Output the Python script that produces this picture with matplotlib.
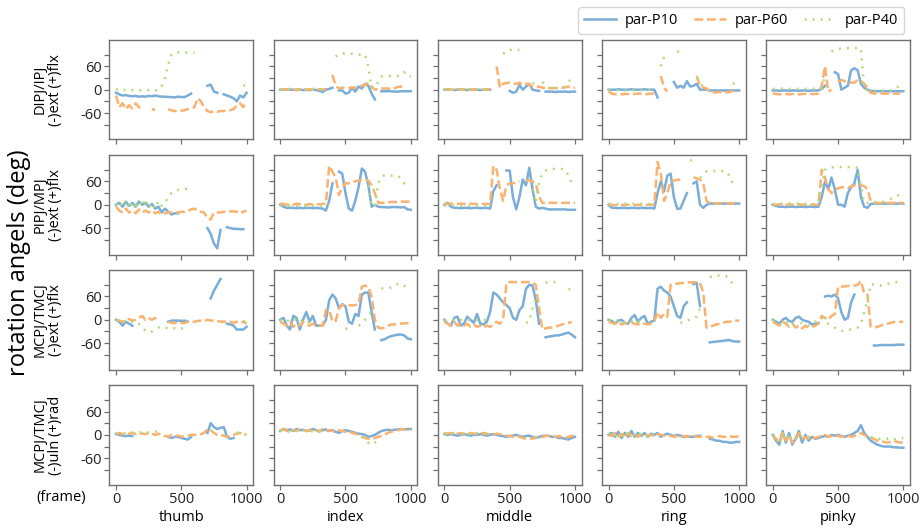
import matplotlib
matplotlib.use("Agg")
import matplotlib.pyplot as plt
import numpy as np

n = np.nan

frames = np.arange(0, 1001, 25)

fingers = ['thumb', 'index', 'middle', 'ring', 'pinky']
row_labels = ['DIPJ/IPJ\n(-)ext (+)flx', 'PIPJ/MPJ\n(-)ext (+)flx',
              'MCPJ/TMCJ\n(-)ext (+)flx', 'MCPJ/TMCJ\n(-)uln (+)rad']
series_names = ['par-P10', 'par-P60', 'par-P40']

# ---- row 1: DIPJ/IPJ flexion ----
dip_thumb_p10 = [-8, -12, -15, -14, -16, -17, -16, -18, -17, -18,
                 -16, -17, -15, -17, -18, -18, -19, -19, -20, -18,
                 -19, -19, -15, -10, n, n, n, n, 10, 13,
                 -5, -8, n, -12, -15, -18, -22, -30, -15, -20, -8]
dip_thumb_p60 = [-15, -45, -35, -50, -40, -48, -35, -45, -50, n,
                 n, -50, -52, n, n, n, -50, -53, -55, -55,
                 -54, -53, -50, -48, -45, -22, -30, -45, -55, -58,
                 -56, -57, -55, -55, -54, -53, -50, -40, -35, -45, -30]
dip_thumb_p40 = [0, 2, -2, 0, -2, -1, 0, -2, -1, 0,
                 -1, 0, -2, -1, 10, 30, 65, 90, 96, 96,
                 96, 96, 95, 95, 95, n, n, n, n, n,
                 n, n, n, n, n, n, n, n, n, 10, 13]

dip_index_p10 = [0, 0, 1, 0, 0, -1, 0, -1, -1, -1,
                 0, -1, -3, -6, 0, 2, 5, n, -2, -2,
                 -10, -8, 5, -5, 8, 3, 15, 10, -10, -25,
                 n, -4, -4, -4, -4, -5, -5, -4, -4, -4, -4]
dip_index_p60 = [0, 1, 0, 1, 0, 0, 1, 0, 0, 1,
                 0, 0, 1, 0, 2, n, 38, 10, 3, 5,
                 5, 4, 6, 5, 8, 10, 12, 18, 8, 0,
                 2, 3, 3, 3, 2, 4, 7, 8, 4, n, n]
dip_index_p40 = [1, 1, 1, 2, 1, 1, 2, 1, 1, 1,
                 2, 1, 1, 1, n, n, n, 85, 92, 93,
                 93, 92, 92, 92, 90, 90, 90, 60, 5, 5,
                 20, 34, 34, 35, 35, 35, 35, 38, 45, 34, 34]

dip_middle_p10 = [0, 0, 0, -1, 0, 0, 0, -1, 0, 0,
                  0, -1, 0, 0, 0, n, n, n, n, n,
                  -3, -8, -5, 12, 0, 8, 15, 0, -2, -3,
                  n, -5, -5, -5, -6, -5, -5, -5, -6, -5, -5]
dip_middle_p60 = [0, 1, 0, 0, 1, 0, 0, 1, 0, 0,
                  1, 0, 0, 1, 0, n, 60, 5, 15, 17,
                  18, 16, 15, 18, 12, 15, 14, 8, 6, 8,
                  5, 5, 4, 4, 4, 5, 5, 6, 8, 5, 5]
dip_middle_p40 = [0, 1, 0, 0, 1, 0, 0, 1, 0, 0,
                  1, 0, 0, 1, 0, n, n, n, 92, 100,
                  102, 103, 103, 102, n, n, n, 15, 22, n,
                  20, 10, 4, 4, 4, 4, 5, 8, 20, 28, 25]

dip_ring_p10 = [0, 0, 0, 1, 0, 0, 0, 1, 0, 0,
                0, 1, 0, 0, 0, -20, n, n, n, n,
                20, 5, 10, 5, 22, 8, 10, 15, 0, 0,
                0, -2, -2, -2, -2, -2, -2, -2, -2, -2, -2]
dip_ring_p60 = [-5, -10, -12, -12, -12, -11, -11, -12, -11, -10,
                -11, -12, -11, -10, -10, n, 35, 5, -5, n,
                n, n, n, n, n, n, n, 35, 10, 5,
                3, -5, -7, -7, -6, -6, -7, -6, -3, -2, n]
dip_ring_p40 = [-1, -1, -2, -1, -1, -2, -1, -1, -2, -1,
                -1, -2, -1, -1, -1, n, 60, 85, 90, n,
                n, 98, 98, 98, n, n, n, 30, 20, 5,
                3, n, n, n, n, n, n, n, 15, 18, n]

dip_pinky_p10 = [-2, -2, -3, -2, -2, -3, -2, -2, -3, -2,
                 -2, -3, -2, -2, -2, 2, 10, n, n, 45,
                 40, 0, 5, 10, 50, 55, 50, 15, 5, 0,
                 -3, -4, -4, -4, -4, -4, -4, -4, -4, -4, -4]
dip_pinky_p60 = [-10, -11, -12, -11, -11, -12, -11, -11, -12, -11,
                 -11, -12, -11, -11, -10, 10, 60, -5, 0, n,
                 20, 25, 22, 20, 18, 18, 25, 22, 15, 5,
                 -8, -10, -10, -10, -10, -10, -10, -10, -10, -10, n]
dip_pinky_p40 = [2, 2, 2, 3, 2, 2, 3, 2, 2, 3,
                 2, 2, 3, 2, 2, 5, 35, n, 98, 103,
                 104, 106, 107, 107, 107, 107, 107, 106, 3, 0,
                 -2, -2, -2, -2, -2, -2, -2, 0, 5, 12, 18]

# ---- row 2: PIPJ/MPJ flexion ----
pip_thumb_p10 = [0, 5, -5, 8, -3, 5, -5, 8, 0, 5,
                 -5, 2, -10, -5, -20, -10, -18, -25, -22, -22,
                 n, -35, n, -55, n, n, n, n, -60, -75,
                 -100, -112, -65, n, -58, -60, -62, -62, -63, -63, n]
pip_thumb_p60 = [-5, -15, -20, -10, -20, -15, -22, -12, -20, -15,
                 -20, -15, -22, -18, -25, -22, -20, -20, -20, -20,
                 -18, -18, -16, -12, -10, -15, -18, -20, -35, -38,
                 -20, -20, -20, -18, -18, -17, -17, -18, -22, -18, -15]
pip_thumb_p40 = [0, 10, -5, 12, -10, 8, -12, 10, -5, 15,
                 -8, 5, -10, 10, -3, 5, 20, 30, 35, 38,
                 40, 40, 42, 42, n, n, n, n, n, n,
                 n, n, n, n, n, n, n, n, n, n, n]

pip_index_p10 = [0, -5, -8, -8, -8, -9, -8, -9, -8, -8,
                 -9, -8, -9, -10, -15, 10, 55, n, 85, 80,
                 30, -10, -15, 10, 45, 93, 85, 50, -5, 0,
                 -5, -6, -6, -7, -6, -6, -6, -7, -6, -12, -13]
pip_index_p60 = [3, 2, 0, 2, 0, 3, 1, 2, 0, 2,
                 0, 2, 1, 2, 3, 100, 85, 70, 25, 45,
                 55, 55, 58, 60, 62, 65, 65, 62, 50, 30,
                 5, 5, 5, 6, 7, 7, 7, 8, 8, 8, 8]
pip_index_p40 = [-2, -2, -3, -2, -2, -3, -2, -2, -3, -2,
                 -2, -3, -2, -2, -2, 0, n, n, n, n,
                 n, n, n, n, n, n, n, 50, 0, -5,
                 55, 72, 76, 76, 75, 75, 74, 68, 55, 50, 50]

pip_middle_p10 = [0, 5, -5, -8, -8, -9, -8, -8, -9, -8,
                  -8, -9, -8, -8, -10, 35, 50, n, n, 88,
                  88, 20, -12, 20, 65, 50, 95, 40, -5, -10,
                  -8, -10, -12, -12, -12, -12, -12, -12, -13, -13, -13]
pip_middle_p60 = [2, 2, 3, 2, 2, 3, 2, 2, 3, 2,
                  2, 3, 2, 2, 2, 100, 90, 40, 10, 50,
                  55, 55, 58, 60, n, 62, 63, 60, 55, 20,
                  5, 5, 5, 5, 5, 5, 5, 5, 5, 5, 5]
pip_middle_p40 = [-2, -2, -3, -2, -2, -3, -2, -2, -3, -2,
                  -2, -3, -2, -2, -2, n, n, n, n, n,
                  n, n, n, n, n, n, n, 40, 5, 60,
                  80, 88, 90, 92, 92, 92, 92, 90, 75, 55, n]

pip_ring_p10 = [0, -8, -8, -9, -8, -8, -9, -8, -8, -9,
                -8, -8, -9, -8, -10, 30, 60, 35, 75, 80,
                20, -10, -10, 10, 30, n, 55, 60, 0, -8,
                0, 3, 3, 3, 3, 3, 3, 3, 3, 3, 3]
pip_ring_p60 = [0, 0, -1, 0, 0, -1, 0, 0, -1, 0,
                0, -1, 0, 0, 0, 110, 80, 10, 30, 60,
                62, 64, 65, 64, n, n, 70, 68, 65, 55,
                10, 4, 4, 4, 4, 4, 4, 4, 4, 4, 4]
pip_ring_p40 = [2, 2, 3, 2, 2, 3, 2, 2, 3, 2,
                2, 3, 2, 2, 2, n, n, n, n, n,
                n, n, n, n, n, 115, 112, n, 70, 75,
                86, 87, 87, 87, 87, 87, 86, 75, 55, 45, n]

pip_pinky_p10 = [0, -3, -5, -5, -6, -5, -5, -6, -5, -5,
                 -6, -5, -5, -6, -5, 20, 60, 40, 70, 40,
                 0, 0, -5, 30, 45, 55, 90, 20, -5, -8,
                 2, 3, 3, 3, 3, 3, 3, 3, 3, 3, 3]
pip_pinky_p60 = [0, 0, 1, 0, 0, 1, 0, 0, 1, 0,
                 0, 1, 0, 0, 0, 90, 70, 40, 30, 40,
                 42, 45, 45, 43, 48, 50, 50, 50, 48, 40,
                 10, 5, 5, 5, 5, 5, 5, 5, 5, 5, 5]
pip_pinky_p40 = [2, 2, 3, 2, 2, 3, 2, 2, 3, 2,
                 2, 3, 2, 2, 2, 50, 90, 95, 96, 97,
                 97, 97, 97, 97, 97, 97, 95, 50, 5, 5,
                 6, 7, 7, 8, 8, 12, 15, 18, 22, 28, n]

# ---- row 3: MCPJ/TMCJ flexion ----
mcp_thumb_p10 = [0, -5, -15, -5, -10, -15, n, n, n, n,
                 n, n, n, n, n, n, -5, -2, -2, -2,
                 -3, -2, -5, n, n, n, n, n, n, 55,
                 75, 90, 105, n, -10, -12, -15, -25, -25, -25, -18]
mcp_thumb_p60 = [0, -2, -5, 0, 2, -2, 0, 5, 10, 0,
                 5, 0, 5, 3, n, n, -5, -8, -8, -10,
                 -8, -8, -5, -5, -5, -3, -2, -3, 0, -2,
                 -2, -3, -5, -5, -5, -5, -8, -5, -8, -5, -10]
mcp_thumb_p40 = [0, -2, -5, -3, -8, -5, -5, -10, -20, -28,
                 -32, -30, -25, -20, -18, -20, -22, -20, -22, -25,
                 -22, -25, -25, n, n, n, n, n, n, n,
                 n, n, n, n, n, n, n, n, n, -5, 0]

mcp_index_p10 = [0, 5, -15, -25, 10, 5, -25, 0, 20, -5,
                 10, -15, -15, -15, 0, 50, 65, 55, 30, 40,
                 35, -5, -10, 15, 10, 65, 70, 70, 20, -25,
                 n, -52, -50, -45, -42, -40, -38, -38, -40, -48, -50]
mcp_index_p60 = [-5, -10, -15, -5, -18, -10, -15, -5, -12, -15,
                 -10, -15, -15, -15, 25, 25, -5, -3, 30, 38,
                 38, 38, 37, 38, 40, 85, 88, 85, 60, 0,
                 -20, -22, -20, -15, -12, -12, -10, -10, -9, -9, -10]
mcp_index_p40 = [0, -5, 0, -5, -2, 3, -5, 0, -3, -8,
                 -5, n, n, n, n, n, n, n, -22, n,
                 -23, -23, n, n, -15, -10, 0, 10, 20, n,
                 n, 80, 82, 82, 83, 85, 92, 92, 88, 72, n]

mcp_middle_p10 = [0, -10, -15, 5, 8, -15, -10, 8, 0, -8,
                  15, -10, -12, -5, 20, 70, 65, 55, 45, 38,
                  30, 5, 0, 25, 35, 80, 90, 88, 50, -10,
                  n, -45, -43, -42, -40, -40, -38, -35, -33, -38, -45]
mcp_middle_p60 = [-5, -10, -15, -5, -15, -10, -15, -10, -18, -12,
                  -18, -15, -20, -15, -18, -12, -5, -10, 0, 95,
                  97, 97, 97, 97, 97, 97, 97, 96, 90, 30,
                  -25, -22, -20, -20, -18, -15, -12, -10, -8, -5, n]
mcp_middle_p40 = [0, 0, 2, 0, -2, 0, 2, 0, 0, -2,
                  0, 0, 0, 0, n, n, n, n, n, n,
                  -20, n, n, n, n, -8, -5, 30, 55, n,
                  n, 95, 97, 97, 97, 97, n, n, 78, 80, 80]

mcp_ring_p10 = [0, -3, -10, -2, 0, -8, -10, 5, 12, -5,
                5, 10, -10, -5, -2, 80, 85, 75, 70, 60,
                35, 10, 5, 35, 45, n, 92, 95, 35, n,
                n, -58, -57, -56, -55, -54, -53, -52, -55, -56, -56]
mcp_ring_p60 = [-5, -8, -10, -5, -12, -8, -10, -8, -10, -12,
                -8, -10, -12, -10, -5, 20, 5, 15, 8, 90,
                92, 93, 94, 95, 96, 96, 97, 96, 95, 70,
                -20, -18, -15, -12, -10, -8, -5, -5, -3, -2, -2]
mcp_ring_p40 = [0, -3, -5, 0, -5, -8, -5, -3, 0, -5,
                -3, 0, n, n, n, n, n, n, n, n,
                n, n, -8, -6, -4, 2, 5, 8, 30, n,
                n, 110, 112, 114, 114, 113, 112, 105, 92, 88, n]

mcp_pinky_p10 = [0, -5, -10, 0, 5, -3, -5, 5, 8, 0,
                 -3, -5, -12, -10, -8, n, 60, 62, 60, 65,
                 55, 20, 0, 5, 45, 65, n, n, 45, n,
                 n, -66, -66, -65, -65, -65, -65, -65, -64, -64, -64]
mcp_pinky_p60 = [-5, -10, -15, -5, -10, -18, -10, -20, -15, -22,
                 -15, -20, -18, -15, -10, 10, 5, 0, 10, 15,
                 85, 85, 86, 87, 88, 88, 90, 100, 68, 65,
                 -18, -20, -18, -15, -12, -10, -8, -6, -5, -5, -5]
mcp_pinky_p40 = [0, -5, -10, -15, -8, -5, -12, -15, -10, -8,
                 -12, -15, -10, -5, 0, 5, 0, -10, -15, -20,
                 -25, -28, -28, -25, -25, -22, -20, -10, 20, 50,
                 92, 90, 88, 88, 90, 92, 94, 95, 97, 97, 96]

# ---- row 4: MCPJ/TMCJ ulnar / radial ----
abd_thumb_p10 = [2, 0, -2, -3, -2, -3, n, n, n, n,
                 n, n, n, n, n, n, -5, -8, -5, -5,
                 -8, -10, -12, -5, n, n, n, n, 5, 30,
                 20, 15, 18, 20, -5, -10, -8, n, n, n, 15]
abd_thumb_p60 = [3, 5, 2, 0, 3, 5, 2, 5, 3, 2,
                 5, 3, 0, 3, 0, -3, -5, 0, -3, -2,
                 -5, -3, -2, 0, 0, 0, 2, 5, 15, 12,
                 5, 0, 0, -2, -5, -3, 0, 3, 5, 2, 0]
abd_thumb_p40 = [2, 5, 3, 5, 4, 6, 5, 7, 6, 8,
                 6, 8, 8, 10, 8, n, n, n, n, n,
                 n, n, n, n, n, n, n, n, n, n,
                 n, n, n, n, n, n, n, 5, 8, 3, 0]

abd_index_p10 = [10, 15, 12, 14, 10, 15, 12, 13, 10, 12,
                 15, 12, 10, 12, 14, 10, 12, 8, 5, 10,
                 12, 10, 8, 5, 3, 2, 0, -5, -3, 0,
                 5, 10, 12, 13, 12, 13, 14, 15, 14, 15, 15]
abd_index_p60 = [12, 15, 10, 14, 12, 10, 15, 12, 10, 12,
                 10, 12, 8, 15, 10, 12, 10, 8, 12, 10,
                 8, 10, 5, 3, 0, -5, -8, -10, -10, -8,
                 -5, -3, 0, 5, 8, 10, 12, 14, 15, 15, 14]
abd_index_p40 = [10, 12, 10, 8, 12, 10, 8, 12, 10, 8,
                 10, 12, 10, 8, 10, n, n, n, n, n,
                 n, n, n, n, n, -5, -10, -20, -25, -20,
                 -15, n, n, n, n, n, n, n, n, n, n]

abd_middle_p10 = [2, 0, 2, 0, -2, 0, 2, 0, -2, 0,
                  0, 2, 0, -2, 0, 2, 0, -2, -3, -5,
                  -3, -2, 0, -3, -5, -3, -2, -5, -8, -5,
                  -3, -2, -3, -5, -5, -8, -8, -10, -12, -8, -5]
abd_middle_p60 = [5, 3, 5, 2, 3, 5, 3, 2, 5, 3,
                  2, 3, 5, 3, 2, 0, 3, 2, 0, -2,
                  -3, -5, -3, -5, -8, -10, -8, -10, -5, -8,
                  -5, -3, -2, -3, -5, -3, -5, -8, -5, -3, -2]
abd_middle_p40 = [3, 2, 3, 5, 2, 3, 5, 3, 2, 3,
                  5, 3, 2, 3, 5, n, n, n, n, n,
                  n, n, n, n, n, n, n, n, -5, -8,
                  -5, n, n, n, n, n, n, n, n, n, n]

abd_ring_p10 = [0, 5, -5, 8, -8, 5, -5, 10, -5, 5,
                -3, 5, -5, 3, 0, 5, -5, 0, 3, 0,
                -3, 0, -2, -5, -3, -5, -5, -3, -2, n,
                n, -10, -12, -15, -15, -18, -18, -20, -20, -18, -18]
abd_ring_p60 = [0, -3, 5, -5, 3, -8, 5, -3, 2, -5,
                0, 3, -2, 0, -3, 2, 0, -2, 0, -3,
                -5, -3, -2, -3, -5, -3, -2, -5, -5, -3,
                -5, -5, -8, -5, -3, -5, -5, -3, -5, -5, -3]
abd_ring_p40 = [5, 0, -5, 5, -3, 8, 0, -5, 3, 0,
                5, 0, -3, 0, 3, n, n, n, n, n,
                n, n, n, n, n, n, n, n, n, n,
                n, n, n, n, n, n, n, n, n, n, n]

abd_pinky_p10 = [0, -15, -25, 10, -20, 5, -25, -10, 10, -20,
                 0, -15, -5, -10, -8, -5, -3, -5, 0, -2,
                 0, -3, -5, -2, 0, 5, 10, 25, 5, -5,
                 -15, -20, -25, -28, -30, -30, -30, -32, -32, -33, -33]
abd_pinky_p60 = [0, -10, -20, 5, -15, 0, -20, -15, 5, -10,
                 -5, -10, -5, -8, -5, -3, 0, -5, -3, 0,
                 -3, -5, -3, 0, -5, -3, 0, 5, 0, -5,
                 -8, -10, -15, -15, -18, -20, -18, -15, -18, -20, -18]
abd_pinky_p40 = [0, -5, -15, 0, -10, -5, -15, -10, 0, -5,
                 -3, -5, -8, -5, n, n, n, n, n, n,
                 n, n, n, n, n, n, n, n, n, n,
                 -5, -8, -10, -10, -12, -10, -8, -10, -12, -10, -8]

grid = [
    [(dip_thumb_p10, dip_thumb_p60, dip_thumb_p40), (dip_index_p10, dip_index_p60, dip_index_p40),
     (dip_middle_p10, dip_middle_p60, dip_middle_p40), (dip_ring_p10, dip_ring_p60, dip_ring_p40),
     (dip_pinky_p10, dip_pinky_p60, dip_pinky_p40)],
    [(pip_thumb_p10, pip_thumb_p60, pip_thumb_p40), (pip_index_p10, pip_index_p60, pip_index_p40),
     (pip_middle_p10, pip_middle_p60, pip_middle_p40), (pip_ring_p10, pip_ring_p60, pip_ring_p40),
     (pip_pinky_p10, pip_pinky_p60, pip_pinky_p40)],
    [(mcp_thumb_p10, mcp_thumb_p60, mcp_thumb_p40), (mcp_index_p10, mcp_index_p60, mcp_index_p40),
     (mcp_middle_p10, mcp_middle_p60, mcp_middle_p40), (mcp_ring_p10, mcp_ring_p60, mcp_ring_p40),
     (mcp_pinky_p10, mcp_pinky_p60, mcp_pinky_p40)],
    [(abd_thumb_p10, abd_thumb_p60, abd_thumb_p40), (abd_index_p10, abd_index_p60, abd_index_p40),
     (abd_middle_p10, abd_middle_p60, abd_middle_p40), (abd_ring_p10, abd_ring_p60, abd_ring_p40),
     (abd_pinky_p10, abd_pinky_p60, abd_pinky_p40)],
]

plt.rcParams['font.family'] = ['Open Sans', 'DejaVu Sans']

colors = ['#7aadd8', '#f9b270', '#b2dc78']
styles = ['-', (0, (3.5, 1.5)), (0, (0.8, 2.4))]

fig, axes = plt.subplots(4, 5, figsize=(9.2, 5.32), dpi=100)
fig.subplots_adjust(left=0.119, right=0.989, bottom=0.089, top=0.925,
                    wspace=0.143, hspace=0.156)

for r in range(4):
    for c in range(5):
        ax = axes[r, c]
        for k, ys in enumerate(grid[r][c]):
            ax.plot(frames, np.array(ys, dtype=float), color=colors[k],
                    linestyle=styles[k], linewidth=1.8, label=series_names[k])
        ax.set_xlim(-50, 1050)
        ax.set_ylim(-128, 128)
        ax.set_yticks([-90, -60, -30, 0, 30, 60, 90])
        ax.set_xticks([0, 500, 1000])
        for sp in ax.spines.values():
            sp.set_color('#707070')
            sp.set_linewidth(1.0)
        ax.tick_params(colors='#707070', labelcolor='#222222', labelsize=10.5,
                       length=3.5, width=0.9, pad=2)
        if c == 0:
            ax.set_yticklabels(['', '-60', '', '0', '', '60', ''])
            ax.set_ylabel(row_labels[r], fontsize=10.5, linespacing=1.05)
            ax.yaxis.set_label_coords(-0.325, 0.5)
        else:
            ax.set_yticklabels([])
        if r == 3:
            ax.set_xticklabels(['0', '500', '1000'])
            ax.set_xlabel(fingers[c], fontsize=10.5, labelpad=2)
        else:
            ax.set_xticklabels([])

fig.text(0.021, 0.507, 'rotation angels (deg)', rotation=90, fontsize=17,
         ha='center', va='center')
fig.text(0.067, 0.064, '(frame)', fontsize=10.5, ha='center', va='center')

handles, labels = axes[0, 0].get_legend_handles_labels()
fig.legend(handles, labels, loc='upper right', bbox_to_anchor=(0.991, 1.0),
           ncol=3, fontsize=10.5, frameon=True, handlelength=2.2,
           columnspacing=1.1, borderpad=0.4, handletextpad=0.6)

fig.savefig('out.png', dpi=100)
